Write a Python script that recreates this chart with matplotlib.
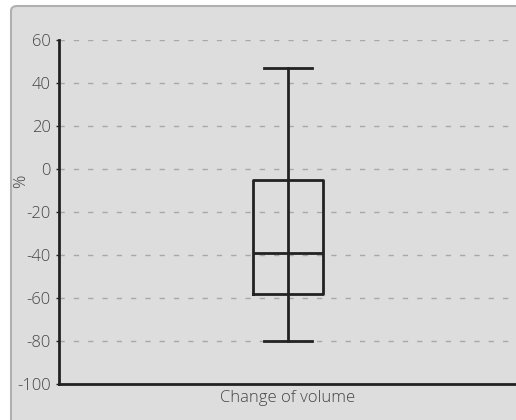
import matplotlib.pyplot as plt
from matplotlib.patches import FancyBboxPatch

# box plot summary for the single category
category = "Change of volume"
whisker_low = -80
q1 = -58
median = -39
q3 = -5
whisker_high = 47
y_ticks = [-100, -80, -60, -40, -20, 0, 20, 40, 60]

plt.rcParams['font.family'] = ['Open Sans', 'DejaVu Sans']
plt.rcParams['font.weight'] = 'light'
plt.rcParams['axes.labelweight'] = 'light'

fig = plt.figure(figsize=(5.16, 4.20), dpi=100)
fig.patch.set_facecolor('white')

# grey panel behind the chart
panel = FancyBboxPatch((11 / 516, -0.05), 1.1, 0.05 + 414 / 420,
                       boxstyle="round,pad=0,rounding_size=0.012",
                       transform=fig.transFigure, facecolor='#dcdddc',
                       edgecolor='#b0b0b0', linewidth=1.5, zorder=-10)
fig.patches.append(panel)

ax = fig.add_axes([59 / 516, 36 / 420, 1 - 59 / 516 + 0.002, 344 / 420])
ax.set_facecolor('none')
ax.set_zorder(5)

stats = [{'whislo': whisker_low, 'q1': q1, 'med': median, 'q3': q3,
          'whishi': whisker_high, 'fliers': [], 'label': ''}]
line_kw = dict(color='#222222', linewidth=2.0)
ax.bxp(stats, positions=[0], widths=0.151, capwidths=0.105, showfliers=False,
       boxprops=line_kw, medianprops=line_kw, whiskerprops=line_kw,
       capprops=line_kw)
# whisker line continues through the box
ax.vlines(0, q1, q3, color='#222222', linewidth=2.0, zorder=3)

ax.set_xlim(-0.5, 0.5)
ax.set_ylim(-100, 60)
ax.set_yticks(y_ticks)
ax.set_yticklabels([str(v) for v in y_ticks])
ax.set_xticks([])

for v in y_ticks[1:]:
    ax.axhline(v, color='#a8a8a8', linewidth=1, dashes=(3.8, 6.5), zorder=1)

for side in ['top', 'right']:
    ax.spines[side].set_visible(False)
for side in ['left', 'bottom']:
    ax.spines[side].set_color('#222222')
    ax.spines[side].set_linewidth(2)

ax.tick_params(axis='y', length=2, width=1, colors='#222222',
               labelcolor='#444444', labelsize=12, pad=4)

ax.set_xlabel(category, fontsize=12, color='#444444', labelpad=4)
ax.set_ylabel('%', fontsize=12, color='#444444')
ax.yaxis.set_label_coords(-0.065, 0.59)

fig.savefig('out.png', dpi=100)
